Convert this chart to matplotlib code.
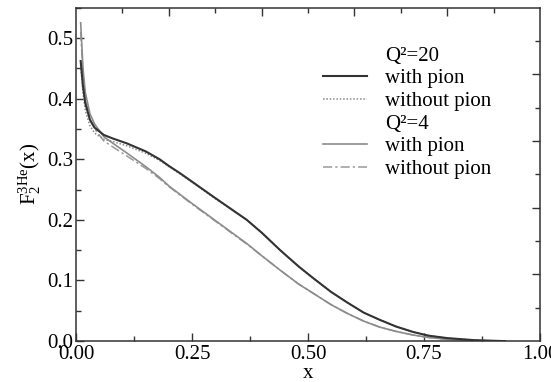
import numpy as np
import matplotlib
matplotlib.use("Agg")
import matplotlib.pyplot as plt
from matplotlib.lines import Line2D
from matplotlib.ticker import MultipleLocator, FixedLocator

plt.rcParams['font.family'] = 'Liberation Serif'
plt.rcParams['mathtext.fontset'] = 'custom'
plt.rcParams['mathtext.rm'] = 'Liberation Serif'
plt.rcParams['mathtext.it'] = 'Liberation Serif:italic'

x = [0.01, 0.015, 0.02, 0.03, 0.04, 0.06, 0.08, 0.11, 0.15, 0.18, 0.2, 0.224, 0.25, 0.3,
     0.368, 0.4, 0.44, 0.48, 0.511, 0.55, 0.584, 0.62, 0.655, 0.69, 0.727, 0.76, 0.8,
     0.86, 0.925]
f2_q20_pion = [0.462, 0.42, 0.392, 0.365, 0.352, 0.340, 0.334, 0.326, 0.313, 0.300, 0.289,
               0.277, 0.263, 0.236, 0.2, 0.179, 0.15, 0.123, 0.104, 0.081, 0.064, 0.047,
               0.035, 0.024, 0.015, 0.009, 0.005, 0.0015, 0.0]
f2_q20_nopion = [0.455, 0.41, 0.38, 0.355, 0.343, 0.333, 0.329, 0.322, 0.310, 0.298, 0.288,
                 0.276, 0.262, 0.235, 0.2, 0.179, 0.15, 0.123, 0.104, 0.081, 0.064, 0.047,
                 0.035, 0.024, 0.015, 0.009, 0.005, 0.0015, 0.0]
f2_q4_pion = [0.525, 0.45, 0.41, 0.375, 0.358, 0.337, 0.326, 0.310, 0.288, 0.270, 0.256,
              0.242, 0.227, 0.199, 0.161, 0.141, 0.117, 0.094, 0.079, 0.060, 0.046, 0.033,
              0.023, 0.016, 0.010, 0.006, 0.003, 0.001, 0.0]
f2_q4_nopion = [0.51, 0.44, 0.40, 0.365, 0.35, 0.330, 0.320, 0.305, 0.285, 0.268, 0.255,
                0.241, 0.226, 0.198, 0.160, 0.141, 0.117, 0.094, 0.079, 0.060, 0.046, 0.033,
                0.023, 0.016, 0.010, 0.006, 0.003, 0.001, 0.0]

fig = plt.figure(figsize=(5.51, 3.82), dpi=100)
ax = fig.add_axes([0.138, 0.107, 0.842, 0.873])

ax.plot(x, f2_q4_nopion, color='#9a9a9a', lw=1.1, ls=(0, (6, 2, 1.5, 2)))
ax.plot(x, f2_q4_pion, color='#8c8c8c', lw=1.2)
ax.plot(x, f2_q20_nopion, color='#8a8a8a', lw=1.1, ls=(0, (1, 1.2)))
ax.plot(x, f2_q20_pion, color='#333333', lw=1.5)

ax.set_xlim(0, 1)
ax.set_ylim(0, 0.55)
ax.xaxis.set_major_locator(MultipleLocator(0.25))
ax.xaxis.set_minor_locator(MultipleLocator(0.125))
ax.yaxis.set_major_locator(MultipleLocator(0.1))
ax.yaxis.set_minor_locator(MultipleLocator(0.05))
ax.xaxis.set_major_formatter(plt.FormatStrFormatter('%.2f'))
ax.yaxis.set_major_formatter(plt.FormatStrFormatter('%.1f'))
ax.tick_params(which='both', direction='in', labelsize=15, color='#333333', pad=3)
ax.tick_params(axis='y', pad=2)
ax.tick_params(which='major', length=6, width=1)
ax.tick_params(which='minor', length=3.5, width=1)
for s in ax.spines.values():
    s.set_linewidth(1.1)
    s.set_color('#333333')

# top and right axes have their own ten divisions
top = ax.secondary_xaxis('top')
top.xaxis.set_major_locator(FixedLocator([0.2, 0.4, 0.6, 0.8]))
top.xaxis.set_minor_locator(FixedLocator([0.1, 0.3, 0.5, 0.7, 0.9]))
right = ax.secondary_yaxis('right')
right.yaxis.set_major_locator(FixedLocator([0.11, 0.22, 0.33, 0.44]))
right.yaxis.set_minor_locator(FixedLocator([0.055, 0.165, 0.275, 0.385, 0.495]))
for sec in (top, right):
    sec.tick_params(which='both', direction='in', labelleft=False, labelright=False,
                    labeltop=False, labelbottom=False, color='#333333', width=1)
    sec.tick_params(which='major', length=6)
    sec.tick_params(which='minor', length=3.5)
    for s in sec.spines.values():
        s.set_visible(False)

ax.set_xlabel('x', fontsize=15, labelpad=0)
ax.set_ylabel(r'$\mathregular{F_2^{3He}(x)}$', fontsize=15, labelpad=3)

blank = Line2D([], [], color='none')
handles = [blank,
           Line2D([], [], color='#333333', lw=1.5),
           Line2D([], [], color='#8a8a8a', lw=1.1, ls=(0, (1, 1.2))),
           blank,
           Line2D([], [], color='#8c8c8c', lw=1.2),
           Line2D([], [], color='#9a9a9a', lw=1.1, ls=(0, (6, 2, 1.5, 2)))]
labels = ['Q²=20', 'with pion', 'without pion', 'Q²=4', 'with pion', 'without pion']
ax.legend(handles, labels, loc='upper left', bbox_to_anchor=(0.532, 0.885),
          frameon=False, fontsize=15, labelspacing=0.15, handlelength=2.1,
          handletextpad=0.87, borderpad=0, borderaxespad=0)

fig.savefig('out.png', dpi=100)
